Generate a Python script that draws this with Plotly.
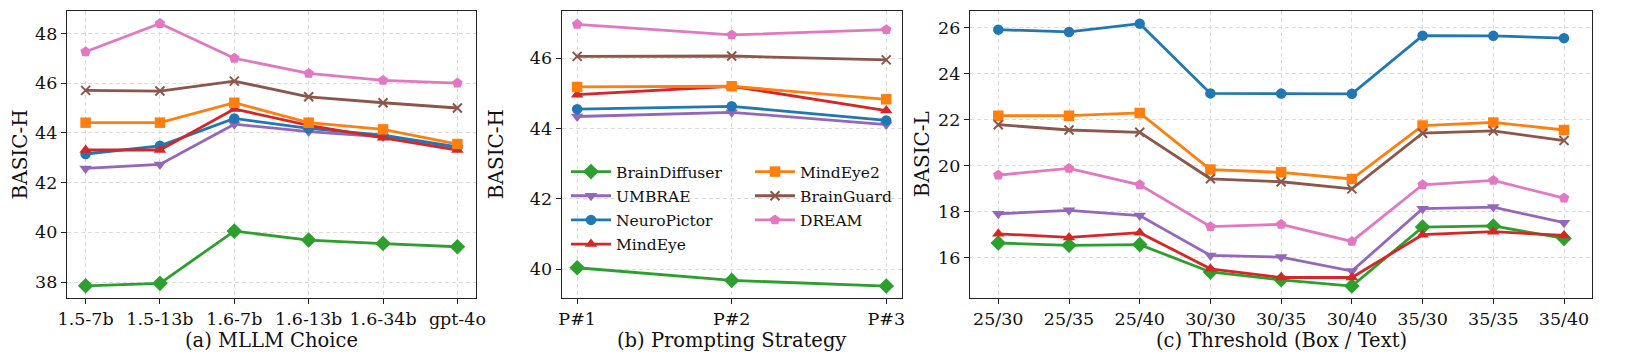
import plotly.graph_objects as go
from plotly.subplots import make_subplots

# ── Data ────────────────────────────────────────────────────────────────────
METHODS = ["BrainDiffuser", "UMBRAE", "NeuroPictor", "MindEye",
           "MindEye2", "BrainGuard", "DREAM"]

# (a) MLLM choice -> BASIC-H
MLLM_CATS = ["1.5-7b", "1.5-13b", "1.6-7b", "1.6-13b", "1.6-34b", "gpt-4o"]
A_BRAINDIFFUSER = [37.85, 37.95, 40.05, 39.69, 39.55, 39.42]
A_UMBRAE        = [42.57, 42.73, 44.35, 44.05, 43.84, 43.40]
A_NEUROPICTOR   = [43.15, 43.48, 44.58, 44.18, 43.91, 43.44]
A_MINDEYE       = [43.31, 43.31, 44.96, 44.30, 43.80, 43.31]
A_MINDEYE2      = [44.41, 44.41, 45.21, 44.41, 44.14, 43.55]
A_BRAINGUARD    = [45.71, 45.68, 46.08, 45.45, 45.21, 45.00]
A_DREAM         = [47.26, 48.40, 47.00, 46.39, 46.11, 46.00]
A_BASE          = [39.09, 43.51, 43.84, 43.92, 44.35, 45.52, 46.86]

# (b) prompting strategy -> BASIC-H
PROMPT_CATS = ["P#1", "P#2", "P#3"]
B_BRAINDIFFUSER = [40.04, 39.68, 39.52]
B_UMBRAE        = [44.34, 44.46, 44.11]
B_NEUROPICTOR   = [44.55, 44.63, 44.23]
B_MINDEYE       = [44.96, 45.20, 44.51]
B_MINDEYE2      = [45.18, 45.20, 44.83]
B_BRAINGUARD    = [46.05, 46.06, 45.95]
B_DREAM         = [46.96, 46.66, 46.81]
B_BASE          = [39.75, 44.30, 44.47, 44.89, 45.08, 46.01, 46.82]

# (c) threshold (box / text) -> BASIC-L
THRESH_CATS = ["25/30", "25/35", "25/40", "30/30", "30/35", "30/40",
               "35/30", "35/35", "35/40"]
C_BRAINDIFFUSER = [16.64, 16.54, 16.57, 15.38, 15.04, 14.77, 17.33, 17.38, 16.84]
C_UMBRAE        = [17.91, 18.06, 17.83, 16.10, 16.03, 15.42, 18.13, 18.20, 17.52]
C_NEUROPICTOR   = [25.91, 25.81, 26.17, 23.14, 23.13, 23.12, 25.65, 25.64, 25.54]
C_MINDEYE       = [17.04, 16.88, 17.09, 15.52, 15.14, 15.14, 17.00, 17.13, 16.97]
C_MINDEYE2      = [22.17, 22.17, 22.29, 19.83, 19.71, 19.42, 21.74, 21.88, 21.55]
C_BRAINGUARD    = [21.78, 21.55, 21.45, 19.43, 19.30, 18.99, 21.41, 21.51, 21.09]
C_DREAM         = [19.59, 19.88, 19.17, 17.35, 17.45, 16.71, 19.17, 19.36, 18.59]
C_BASE          = [16.32, 17.23, 24.91, 16.43, 21.20, 20.72, 18.58]

# ── Style ───────────────────────────────────────────────────────────────────
COLORS = {
    "BrainDiffuser": "#2ca02c", "UMBRAE": "#9467bd", "NeuroPictor": "#1f77b4",
    "MindEye": "#d62728", "MindEye2": "#ff7f0e", "BrainGuard": "#8c564b",
    "DREAM": "#e377c2",
}
FAINT = {
    "BrainDiffuser": "rgba(44,160,44,0.35)", "UMBRAE": "rgba(148,103,189,0.35)",
    "NeuroPictor": "rgba(31,119,180,0.35)", "MindEye": "rgba(214,39,40,0.35)",
    "MindEye2": "rgba(255,127,14,0.35)", "BrainGuard": "rgba(140,86,75,0.35)",
    "DREAM": "rgba(227,119,194,0.35)",
}
SYMBOLS = {
    "BrainDiffuser": ("diamond", 12), "UMBRAE": ("triangle-down", 11),
    "NeuroPictor": ("circle", 10.5), "MindEye": ("triangle-up", 11),
    "MindEye2": ("square", 10.5), "BrainGuard": ("x-thin", 9),
    "DREAM": ("pentagon", 11),
}
FONT = "DejaVu Serif"
W, H = 1628, 363

panels = [
    (MLLM_CATS, [A_BRAINDIFFUSER, A_UMBRAE, A_NEUROPICTOR, A_MINDEYE,
                 A_MINDEYE2, A_BRAINGUARD, A_DREAM], A_BASE),
    (PROMPT_CATS, [B_BRAINDIFFUSER, B_UMBRAE, B_NEUROPICTOR, B_MINDEYE,
                   B_MINDEYE2, B_BRAINGUARD, B_DREAM], B_BASE),
    (THRESH_CATS, [C_BRAINDIFFUSER, C_UMBRAE, C_NEUROPICTOR, C_MINDEYE,
                   C_MINDEYE2, C_BRAINGUARD, C_DREAM], C_BASE),
]

fig = make_subplots(rows=1, cols=3)

for p, (cats, series, base) in enumerate(panels):
    col = p + 1
    # faint dashed reference levels
    for m, yv in zip(METHODS, base):
        fig.add_hline(y=yv, row=1, col=col, layer="between",
                      line=dict(color=FAINT[m], width=1.3, dash="5px,3px"))
    for i, (m, ys) in enumerate(zip(METHODS, series)):
        sym, size = SYMBOLS[m]
        marker = dict(symbol=sym, size=size, color=COLORS[m])
        if sym == "x-thin":
            marker["line"] = dict(color=COLORS[m], width=2)
        fig.add_trace(go.Scatter(
            x=cats, y=ys, mode="lines+markers", name=m,
            line=dict(color=COLORS[m], width=2.8),
            marker=marker,
            showlegend=(p == 1),
            legend="legend" if i < 4 else "legend2",
            legendgroup=m,
        ), row=1, col=col)

# ── Layout ──────────────────────────────────────────────────────────────────
TOP, BOT = 11, 298
XDOM = [(67, 476), (561.7, 901.7), (970, 1592.3)]
YRANGES = [(37.36, 48.9), (39.18, 47.34), (14.25, 26.72)]
XRANGES = [(-0.25, 5.25), (-0.1, 2.1), (-0.4, 8.4)]
YTICKS = [[38, 40, 42, 44, 46, 48], [40, 42, 44, 46], [16, 18, 20, 22, 24, 26]]

axis_common = dict(
    showline=True, linecolor="#222", linewidth=1.3, mirror=True,
    ticks="outside", ticklen=5, tickwidth=1.2, tickcolor="#222",
    showgrid=True, gridcolor="#dcdcdc", gridwidth=1, griddash="4px,3px",
    zeroline=False, automargin=False,
    tickfont=dict(family=FONT, size=17.5, color="#111"),
)
for k in range(3):
    sfx = "" if k == 0 else str(k + 1)
    fig.layout["xaxis" + sfx].update(
        domain=[XDOM[k][0] / W, XDOM[k][1] / W],
        range=list(XRANGES[k]), **axis_common)
    fig.layout["yaxis" + sfx].update(
        domain=[1 - BOT / H, 1 - TOP / H],
        range=list(YRANGES[k]), tickvals=YTICKS[k], **axis_common)

annotations = []
captions = ["(a) MLLM Choice", "(b) Prompting Strategy", "(c) Threshold (Box / Text)"]
ylabels = ["BASIC-H", "BASIC-H", "BASIC-L"]
ylabel_x = [19, 495.7, 921.7]
for k in range(3):
    cx = (XDOM[k][0] + XDOM[k][1]) / 2 / W
    annotations.append(dict(
        text=captions[k], x=cx, y=1 - 340 / H, xref="paper", yref="paper",
        showarrow=False, xanchor="center", yanchor="middle",
        font=dict(family=FONT, size=19.5, color="#111")))
    annotations.append(dict(
        text=ylabels[k], x=ylabel_x[k] / W, y=1 - (TOP + BOT) / 2 / H,
        xref="paper", yref="paper", textangle=-90, showarrow=False,
        xanchor="center", yanchor="middle",
        font=dict(family=FONT, size=20, color="#111")))

legend_common = dict(
    bgcolor="rgba(0,0,0,0)", borderwidth=0,
    font=dict(family=FONT, size=15.5, color="#111"),
    itemwidth=40, tracegroupgap=1, orientation="v",
    xanchor="left", yanchor="top",
)
fig.update_layout(
    width=W, height=H,
    margin=dict(l=0, r=0, t=0, b=0, pad=0),
    paper_bgcolor="white", plot_bgcolor="white",
    font=dict(family=FONT, color="#111"),
    annotations=annotations,
    legend=dict(x=566 / W, y=1 - 155 / H, **legend_common),
    legend2=dict(x=750 / W, y=1 - 155 / H, **legend_common),
)

# page body has a default 8px margin; drop it so the figure sits at (0, 0)
fig.write_html("out.html", config={"displayModeBar": False},
               post_script="document.body.style.margin='0';")
